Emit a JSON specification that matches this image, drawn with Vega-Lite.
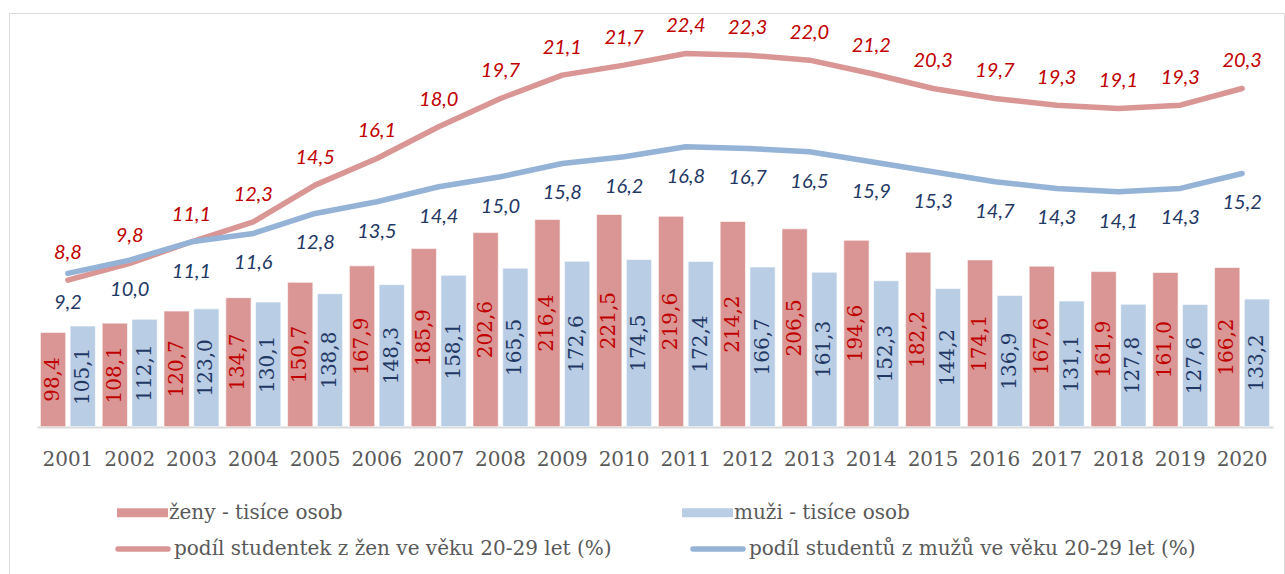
{
  "$schema": "https://vega.github.io/schema/vega-lite/v6.json",
  "width": 1275,
  "height": 561,
  "autosize": {"type": "none"},
  "padding": {"left": 9, "top": 13, "right": 1, "bottom": 0},
  "background": "#ffffff",
  "config": {
    "locale": {"number": {"decimal": ",", "thousands": " ", "grouping": [3], "currency": ["", " Kč"]}},
    "view": {"stroke": "#D9D9D9", "strokeWidth": 1},
    "axis": {"grid": false},
    "legend": {"labelFont": "DejaVu Serif", "labelFontSize": 20, "labelColor": "#595959", "labelLimit": 800}
  },
  "data": {
    "values": [
      {"rok": "2001", "skupina": "ženy - tisíce osob", "serie": "podíl studentek z žen ve věku 20-29 let (%)", "tisice": 98.4, "podil": 8.8},
      {"rok": "2001", "skupina": "muži - tisíce osob", "serie": "podíl studentů z mužů ve věku 20-29 let (%)", "tisice": 105.1, "podil": 9.2},
      {"rok": "2002", "skupina": "ženy - tisíce osob", "serie": "podíl studentek z žen ve věku 20-29 let (%)", "tisice": 108.1, "podil": 9.8},
      {"rok": "2002", "skupina": "muži - tisíce osob", "serie": "podíl studentů z mužů ve věku 20-29 let (%)", "tisice": 112.1, "podil": 10.0},
      {"rok": "2003", "skupina": "ženy - tisíce osob", "serie": "podíl studentek z žen ve věku 20-29 let (%)", "tisice": 120.7, "podil": 11.1},
      {"rok": "2003", "skupina": "muži - tisíce osob", "serie": "podíl studentů z mužů ve věku 20-29 let (%)", "tisice": 123.0, "podil": 11.1},
      {"rok": "2004", "skupina": "ženy - tisíce osob", "serie": "podíl studentek z žen ve věku 20-29 let (%)", "tisice": 134.7, "podil": 12.3},
      {"rok": "2004", "skupina": "muži - tisíce osob", "serie": "podíl studentů z mužů ve věku 20-29 let (%)", "tisice": 130.1, "podil": 11.6},
      {"rok": "2005", "skupina": "ženy - tisíce osob", "serie": "podíl studentek z žen ve věku 20-29 let (%)", "tisice": 150.7, "podil": 14.5},
      {"rok": "2005", "skupina": "muži - tisíce osob", "serie": "podíl studentů z mužů ve věku 20-29 let (%)", "tisice": 138.8, "podil": 12.8},
      {"rok": "2006", "skupina": "ženy - tisíce osob", "serie": "podíl studentek z žen ve věku 20-29 let (%)", "tisice": 167.9, "podil": 16.1},
      {"rok": "2006", "skupina": "muži - tisíce osob", "serie": "podíl studentů z mužů ve věku 20-29 let (%)", "tisice": 148.3, "podil": 13.5},
      {"rok": "2007", "skupina": "ženy - tisíce osob", "serie": "podíl studentek z žen ve věku 20-29 let (%)", "tisice": 185.9, "podil": 18.0},
      {"rok": "2007", "skupina": "muži - tisíce osob", "serie": "podíl studentů z mužů ve věku 20-29 let (%)", "tisice": 158.1, "podil": 14.4},
      {"rok": "2008", "skupina": "ženy - tisíce osob", "serie": "podíl studentek z žen ve věku 20-29 let (%)", "tisice": 202.6, "podil": 19.7},
      {"rok": "2008", "skupina": "muži - tisíce osob", "serie": "podíl studentů z mužů ve věku 20-29 let (%)", "tisice": 165.5, "podil": 15.0},
      {"rok": "2009", "skupina": "ženy - tisíce osob", "serie": "podíl studentek z žen ve věku 20-29 let (%)", "tisice": 216.4, "podil": 21.1},
      {"rok": "2009", "skupina": "muži - tisíce osob", "serie": "podíl studentů z mužů ve věku 20-29 let (%)", "tisice": 172.6, "podil": 15.8},
      {"rok": "2010", "skupina": "ženy - tisíce osob", "serie": "podíl studentek z žen ve věku 20-29 let (%)", "tisice": 221.5, "podil": 21.7},
      {"rok": "2010", "skupina": "muži - tisíce osob", "serie": "podíl studentů z mužů ve věku 20-29 let (%)", "tisice": 174.5, "podil": 16.2},
      {"rok": "2011", "skupina": "ženy - tisíce osob", "serie": "podíl studentek z žen ve věku 20-29 let (%)", "tisice": 219.6, "podil": 22.4},
      {"rok": "2011", "skupina": "muži - tisíce osob", "serie": "podíl studentů z mužů ve věku 20-29 let (%)", "tisice": 172.4, "podil": 16.8},
      {"rok": "2012", "skupina": "ženy - tisíce osob", "serie": "podíl studentek z žen ve věku 20-29 let (%)", "tisice": 214.2, "podil": 22.3},
      {"rok": "2012", "skupina": "muži - tisíce osob", "serie": "podíl studentů z mužů ve věku 20-29 let (%)", "tisice": 166.7, "podil": 16.7},
      {"rok": "2013", "skupina": "ženy - tisíce osob", "serie": "podíl studentek z žen ve věku 20-29 let (%)", "tisice": 206.5, "podil": 22.0},
      {"rok": "2013", "skupina": "muži - tisíce osob", "serie": "podíl studentů z mužů ve věku 20-29 let (%)", "tisice": 161.3, "podil": 16.5},
      {"rok": "2014", "skupina": "ženy - tisíce osob", "serie": "podíl studentek z žen ve věku 20-29 let (%)", "tisice": 194.6, "podil": 21.2},
      {"rok": "2014", "skupina": "muži - tisíce osob", "serie": "podíl studentů z mužů ve věku 20-29 let (%)", "tisice": 152.3, "podil": 15.9},
      {"rok": "2015", "skupina": "ženy - tisíce osob", "serie": "podíl studentek z žen ve věku 20-29 let (%)", "tisice": 182.2, "podil": 20.3},
      {"rok": "2015", "skupina": "muži - tisíce osob", "serie": "podíl studentů z mužů ve věku 20-29 let (%)", "tisice": 144.2, "podil": 15.3},
      {"rok": "2016", "skupina": "ženy - tisíce osob", "serie": "podíl studentek z žen ve věku 20-29 let (%)", "tisice": 174.1, "podil": 19.7},
      {"rok": "2016", "skupina": "muži - tisíce osob", "serie": "podíl studentů z mužů ve věku 20-29 let (%)", "tisice": 136.9, "podil": 14.7},
      {"rok": "2017", "skupina": "ženy - tisíce osob", "serie": "podíl studentek z žen ve věku 20-29 let (%)", "tisice": 167.6, "podil": 19.3},
      {"rok": "2017", "skupina": "muži - tisíce osob", "serie": "podíl studentů z mužů ve věku 20-29 let (%)", "tisice": 131.1, "podil": 14.3},
      {"rok": "2018", "skupina": "ženy - tisíce osob", "serie": "podíl studentek z žen ve věku 20-29 let (%)", "tisice": 161.9, "podil": 19.1},
      {"rok": "2018", "skupina": "muži - tisíce osob", "serie": "podíl studentů z mužů ve věku 20-29 let (%)", "tisice": 127.8, "podil": 14.1},
      {"rok": "2019", "skupina": "ženy - tisíce osob", "serie": "podíl studentek z žen ve věku 20-29 let (%)", "tisice": 161.0, "podil": 19.3},
      {"rok": "2019", "skupina": "muži - tisíce osob", "serie": "podíl studentů z mužů ve věku 20-29 let (%)", "tisice": 127.6, "podil": 14.3},
      {"rok": "2020", "skupina": "ženy - tisíce osob", "serie": "podíl studentek z žen ve věku 20-29 let (%)", "tisice": 166.2, "podil": 20.3},
      {"rok": "2020", "skupina": "muži - tisíce osob", "serie": "podíl studentů z mužů ve věku 20-29 let (%)", "tisice": 133.2, "podil": 15.2}
    ]
  },
  "encoding": {
    "x": {
      "field": "rok",
      "type": "ordinal",
      "scale": {"type": "band", "range": [28, 1264], "paddingInner": 0.11, "paddingOuter": 0.055},
      "axis": {
        "title": null,
        "orient": "bottom",
        "offset": -147,
        "labelAngle": 0,
        "labelFont": "DejaVu Serif",
        "labelFontSize": 20,
        "labelColor": "#595959",
        "labelPadding": 22,
        "ticks": false,
        "tickSize": 0,
        "domainColor": "#D9D9D9",
        "domainWidth": 2
      }
    }
  },
  "layer": [
    {
      "mark": {"type": "bar", "stroke": "#ffffff", "strokeOpacity": 0.6, "strokeWidth": 1},
      "encoding": {
        "xOffset": {"field": "skupina", "type": "nominal", "sort": ["ženy - tisíce osob", "muži - tisíce osob"], "scale": {"paddingInner": 0.15, "paddingOuter": 0}},
        "y": {"field": "tisice", "type": "quantitative", "scale": {"domain": [0, 400], "range": [413.7, 30.5], "nice": false, "zero": true}, "axis": null},
        "color": {
          "field": "skupina",
          "type": "nominal",
          "sort": ["ženy - tisíce osob", "muži - tisíce osob"],
          "scale": {"domain": ["ženy - tisíce osob", "muži - tisíce osob"], "range": ["#D99694", "#B9CDE5"]},
          "legend": {
            "title": null,
            "orient": "none",
            "legendX": 108,
            "legendY": 474,
            "direction": "horizontal",
            "columns": 2,
            "columnPadding": 339,
            "symbolType": "M-1,-0.18H1V0.18H-1Z",
            "symbolSize": 2601,
            "symbolStrokeWidth": 0,
            "labelOffset": 1
          }
        }
      }
    },
    {
      "transform": [{"filter": {"field": "skupina", "equal": "ženy - tisíce osob"}}],
      "mark": {"type": "text", "angle": 270, "align": "center", "baseline": "middle", "font": "DejaVu Serif", "fontSize": 20, "color": "#C00000"},
      "encoding": {
        "xOffset": {"field": "skupina", "type": "nominal", "sort": ["ženy - tisíce osob", "muži - tisíce osob"], "scale": {"domain": ["ženy - tisíce osob", "muži - tisíce osob"], "paddingInner": 0.15, "paddingOuter": 0}},
        "y": {"field": "tisice", "type": "quantitative", "scale": {"domain": [0, 800], "range": [413.7, 30.5], "nice": false}, "axis": null},
        "text": {"field": "tisice", "type": "quantitative", "format": ".1f"}
      }
    },
    {
      "transform": [{"filter": {"field": "skupina", "equal": "muži - tisíce osob"}}],
      "mark": {"type": "text", "angle": 270, "align": "center", "baseline": "middle", "font": "DejaVu Serif", "fontSize": 20, "color": "#1F3864"},
      "encoding": {
        "xOffset": {"field": "skupina", "type": "nominal", "sort": ["ženy - tisíce osob", "muži - tisíce osob"], "scale": {"domain": ["ženy - tisíce osob", "muži - tisíce osob"], "paddingInner": 0.15, "paddingOuter": 0}},
        "y": {"field": "tisice", "type": "quantitative", "scale": {"domain": [0, 800], "range": [413.7, 30.5], "nice": false}, "axis": null},
        "text": {"field": "tisice", "type": "quantitative", "format": ".1f"}
      }
    },
    {
      "mark": {"type": "line", "strokeWidth": 5.5, "strokeCap": "round", "strokeJoin": "round"},
      "encoding": {
        "y": {"field": "podil", "type": "quantitative", "scale": {"domain": [0, 23], "range": [413.7, 30.5], "nice": false}, "axis": null},
        "stroke": {
          "field": "serie",
          "type": "nominal",
          "sort": ["podíl studentek z žen ve věku 20-29 let (%)", "podíl studentů z mužů ve věku 20-29 let (%)"],
          "scale": {"domain": ["podíl studentek z žen ve věku 20-29 let (%)", "podíl studentů z mužů ve věku 20-29 let (%)"], "range": ["#D99694", "#95B3D7"]},
          "legend": {
            "title": null,
            "orient": "none",
            "legendX": 106,
            "legendY": 508,
            "direction": "horizontal",
            "columns": 2,
            "columnPadding": 70,
            "symbolType": "stroke",
            "symbolSize": 2500,
            "symbolStrokeWidth": 5.5,
            "labelOffset": 3,
            "encode": {"symbols": {"update": {"strokeCap": {"value": "round"}}}}
          }
        }
      }
    },
    {
      "transform": [{"filter": {"field": "skupina", "equal": "ženy - tisíce osob"}}],
      "mark": {"type": "text", "align": "center", "baseline": "middle", "font": "Lato", "fontStyle": "italic", "fontSize": 20, "color": "#C00000", "dy": -27},
      "encoding": {
        "y": {"field": "podil", "type": "quantitative", "scale": {"domain": [0, 23], "range": [413.7, 30.5], "nice": false}, "axis": null},
        "text": {"field": "podil", "type": "quantitative", "format": ".1f"}
      }
    },
    {
      "transform": [{"filter": {"field": "skupina", "equal": "muži - tisíce osob"}}],
      "mark": {"type": "text", "align": "center", "baseline": "middle", "font": "Lato", "fontStyle": "italic", "fontSize": 20, "color": "#1F3864", "dy": 30},
      "encoding": {
        "y": {"field": "podil", "type": "quantitative", "scale": {"domain": [0, 23], "range": [413.7, 30.5], "nice": false}, "axis": null},
        "text": {"field": "podil", "type": "quantitative", "format": ".1f"}
      }
    }
  ],
  "resolve": {"scale": {"y": "independent", "color": "independent", "stroke": "independent"}}
}
